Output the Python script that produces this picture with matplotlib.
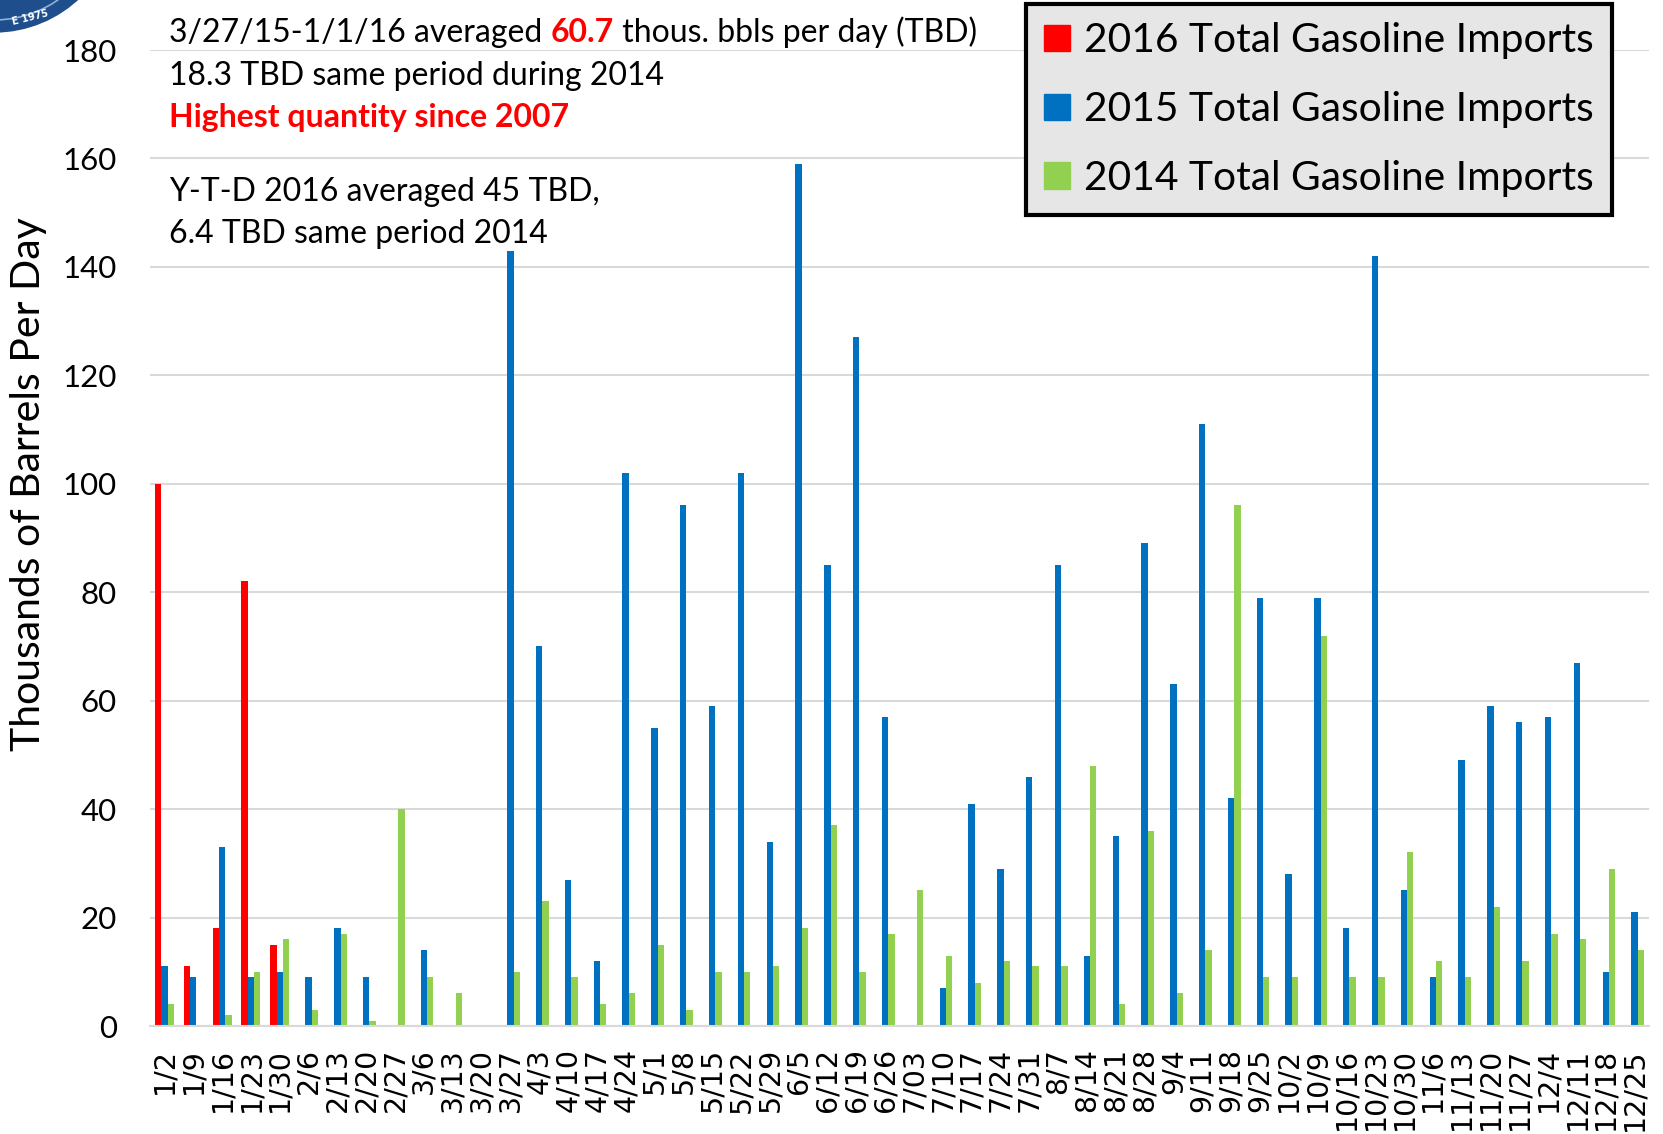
import numpy as np
import matplotlib
matplotlib.use("Agg")
import matplotlib.pyplot as plt
from matplotlib.patches import Patch, Circle
from matplotlib.transforms import IdentityTransform

# weekly gasoline imports, thousand barrels per day
weeks = ["1/2", "1/9", "1/16", "1/23", "1/30", "2/6", "2/13", "2/20", "2/27", "3/6",
         "3/13", "3/20", "3/27", "4/3", "4/10", "4/17", "4/24", "5/1", "5/8", "5/15",
         "5/22", "5/29", "6/5", "6/12", "6/19", "6/26", "7/03", "7/10", "7/17", "7/24",
         "7/31", "8/7", "8/14", "8/21", "8/28", "9/4", "9/11", "9/18", "9/25", "10/2",
         "10/9", "10/16", "10/23", "10/30", "11/6", "11/13", "11/20", "11/27", "12/4",
         "12/11", "12/18", "12/25"]

imports_2016 = [100, 11, 18, 82, 15] + [0] * 47

imports_2015 = [11, 9, 33, 9, 10, 9, 18, 9, 0, 14,
                0, 0, 143, 70, 27, 12, 102, 55, 96, 59,
                102, 34, 159, 85, 127, 57, 0, 7, 41, 29,
                46, 85, 13, 35, 89, 63, 111, 42, 79, 28,
                79, 18, 142, 25, 9, 49, 59, 56, 57,
                67, 10, 21]

imports_2014 = [4, 0, 2, 10, 16, 3, 17, 1, 40, 9,
                6, 0, 10, 23, 9, 4, 6, 15, 3, 10,
                10, 11, 18, 37, 10, 17, 25, 13, 8, 12,
                11, 11, 48, 4, 36, 6, 14, 96, 9, 9,
                72, 9, 9, 32, 12, 9, 22, 12, 17,
                16, 29, 14]

RED = "#FF0000"
BLUE = "#0070C0"
GREEN = "#92D050"
GRID = "#D9D9D9"
FONT = "Lato"

W, H = 1663, 1134
fig = plt.figure(figsize=(W / 100, H / 100), dpi=100)
ax = fig.add_axes([150 / W, 1 - 1026 / H, 1499 / W, 976 / H])

x = np.arange(len(weeks))
bw = 0.22
ax.bar(x - bw, imports_2016, bw, color=RED, zorder=3)
ax.bar(x, imports_2015, bw, color=BLUE, zorder=3)
ax.bar(x + bw, imports_2014, bw, color=GREEN, zorder=3)

ax.set_xlim(-0.5, len(weeks) - 0.5)
ax.set_ylim(0, 180)
ax.set_yticks(range(0, 181, 20))
ax.yaxis.grid(True, color=GRID, lw=1.5)
ax.set_axisbelow(True)
for s in ["top", "right", "left"]:
    ax.spines[s].set_visible(False)
ax.spines["bottom"].set_color(GRID)
ax.spines["bottom"].set_linewidth(1.5)
ax.spines["bottom"].set_zorder(4)

ax.set_xticks(x)
ax.set_xticklabels(weeks, rotation=90, fontsize=20.5, family="DejaVu Sans")
ax.tick_params(axis="x", length=0, pad=16)
ax.tick_params(axis="y", length=0, pad=24, labelsize=22.5)
for t in ax.get_yticklabels():
    t.set_family(FONT)

fig.text(29 / W, 1 - 484 / H, "Thousands of Barrels Per Day", rotation=90,
         ha="center", va="center", fontsize=29.5, family=FONT)

# notes in the top left
px = IdentityTransform()


def line(parts, x0, y_top, size=23):
    xx = x0
    r = fig.canvas.get_renderer()
    for s, color, weight in parts:
        t = fig.text(xx, H - y_top, s, transform=px, fontsize=size, family=FONT,
                     color=color, fontweight=weight, va="baseline", ha="left")
        xx = t.get_window_extent(r).x1


fig.canvas.draw()
line([("3/27/15-1/1/16 averaged ", "black", "normal"),
      ("60.7", RED, "bold"),
      (" thous. bbls per day (TBD)", "black", "normal")], 169, 42)
line([("18.3 TBD same period during 2014", "black", "normal")], 169, 85)
line([("Highest quantity since 2007", RED, "bold")], 169, 127)
line([("Y-T-D 2016 averaged 45 TBD,", "black", "normal")], 169, 201)
line([("6.4 TBD same period 2014", "black", "normal")], 169, 243)

handles = [Patch(color=RED, label="2016 Total Gasoline Imports"),
           Patch(color=BLUE, label="2015 Total Gasoline Imports"),
           Patch(color=GREEN, label="2014 Total Gasoline Imports")]
leg = fig.legend(handles=handles, loc="upper right",
                 bbox_to_anchor=(1612 / W, 1 - 4 / H), bbox_transform=fig.transFigure,
                 prop={"family": FONT, "size": 29.3}, fancybox=False, framealpha=1,
                 facecolor="#E6E6E6", edgecolor="black", handlelength=0.62,
                 handleheight=0.62, handletextpad=0.35, labelspacing=0.78,
                 borderpad=0.45, borderaxespad=0)
leg.get_frame().set_linewidth(3)

# seal in the corner
fig.add_artist(Circle((-6, H + 92), 124, transform=px, color="#1F4E8C", zorder=5))
fig.add_artist(Circle((-6, H + 92), 112, transform=px, fill=False, ec="#8FB0D8",
                      lw=1.2, zorder=6))
fig.text(30, H - 18, "E 1975", transform=px, fontsize=7, color="white",
         fontweight="bold", rotation=14, ha="center", va="center", zorder=7)

fig.savefig("out.png", dpi=100)
